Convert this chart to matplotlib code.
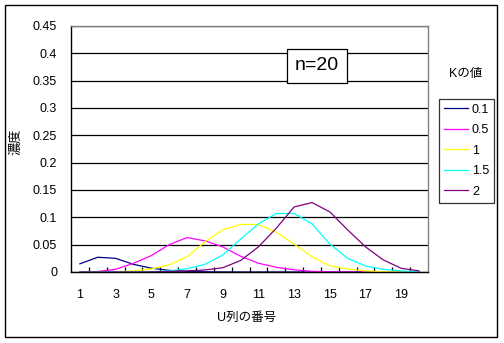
import matplotlib
matplotlib.use("Agg")
import matplotlib.pyplot as plt
from matplotlib.patches import Rectangle
from matplotlib.ticker import FixedLocator

plt.rcParams['font.family'] = ['Liberation Sans', 'Noto Sans CJK JP']

categories = list(range(1, 21))
x_tick_labels = ["1", "3", "5", "7", "9", "11", "13", "15", "17", "19"]
y_ticks = [0, 0.05, 0.1, 0.15, 0.2, 0.25, 0.3, 0.35, 0.4, 0.45]
y_tick_labels = ["0", "0.05", "0.1", "0.15", "0.2", "0.25", "0.3", "0.35", "0.4", "0.45"]

series_names = ["0.1", "0.5", "1", "1.5", "2"]
k01 = [0.015, 0.027, 0.025, 0.014, 0.007, 0.003, 0.0012, 0.0004, 0.0001, 0,
       0, 0, 0, 0, 0, 0, 0, 0, 0, 0]
k05 = [0.0002, 0.0008, 0.005, 0.016, 0.030, 0.050, 0.063, 0.057, 0.046, 0.029,
       0.016, 0.0086, 0.004, 0.0012, 0.0003, 0.0001, 0, 0, 0, 0]
k1 = [0, 0.0001, 0.0005, 0.002, 0.0055, 0.013, 0.028, 0.055, 0.077, 0.087,
      0.087, 0.073, 0.051, 0.028, 0.011, 0.0055, 0.002, 0.0005, 0.0001, 0]
k15 = [0, 0, 0.0001, 0.0003, 0.0008, 0.002, 0.006, 0.014, 0.031, 0.060,
       0.088, 0.107, 0.107, 0.088, 0.051, 0.025, 0.011, 0.005, 0.002, 0.0003]
k2 = [0, 0, 0, 0, 0.0002, 0.001, 0.002, 0.0037, 0.0078, 0.021,
      0.046, 0.080, 0.119, 0.127, 0.110, 0.077, 0.046, 0.022, 0.0068, 0.002]
series_values = [k01, k05, k1, k15, k2]
colors = ["#000080", "#FF00FF", "#FFFF00", "#00FFFF", "#800080"]

W, H = 504, 343
fig = plt.figure(figsize=(W / 100, H / 100), dpi=100)
fig.patch.set_facecolor("white")

def fx(px):
    return px / W

def fy(py):
    return 1 - py / H

L, R, T, B = 71, 428, 26, 272
ax = fig.add_axes([fx(L), fy(B), fx(R) - fx(L), fy(T) - fy(B)])

lines = []
for name, vals, c in zip(series_names, series_values, colors):
    ln, = ax.plot(categories, vals, color=c, lw=0.9, label=name, zorder=2)
    lines.append(ln)

ax.set_xlim(0.5, 20.5)
ax.set_ylim(0, 0.45)
ax.set_yticks(y_ticks)
ax.set_yticklabels(y_tick_labels)
ax.set_xticks(categories[::2])
ax.set_xticklabels(x_tick_labels)
ax.xaxis.set_minor_locator(FixedLocator([i + 0.5 for i in range(1, 20)]))
ax.tick_params(axis='x', which='major', length=0, pad=12, labelsize=9)
ax.tick_params(axis='x', which='minor', length=3.5, direction='in', width=0.9, color='black')
ax.tick_params(axis='y', which='major', length=0, pad=10, labelsize=9)
ax.grid(axis='y', color='black', lw=0.9)
ax.set_axisbelow(True)
for s in ['left', 'bottom']:
    ax.spines[s].set_color('black')
    ax.spines[s].set_linewidth(1.0)
for s in ['top', 'right']:
    ax.spines[s].set_color('#808080')
    ax.spines[s].set_linewidth(1.0)

# axis titles
fig.text(fx(247), fy(318), "U列の番号", ha='center', va='center', fontsize=9)
fig.text(fx(16), fy(142), "濃度", ha='center', va='center', rotation=90, fontsize=9.5)

# n=20 box
fig.text(fx(317), fy(66), "n=20", ha='center', va='center', fontsize=14,
         bbox=dict(boxstyle='square,pad=0.42', facecolor='white', edgecolor='black', lw=0.9),
         zorder=5)

# legend
leg = fig.legend(handles=lines, loc='upper left',
                 bbox_to_anchor=(fx(439), fy(99)), bbox_transform=fig.transFigure,
                 fontsize=9, frameon=True, fancybox=False, borderaxespad=0,
                 handlelength=1.9, handletextpad=0.35, labelspacing=0.68,
                 borderpad=0.38)
leg.get_frame().set_edgecolor('black')
leg.get_frame().set_linewidth(0.9)
for h in leg.get_lines():
    h.set_linewidth(0.9)
fig.text(fx(466), fy(74), "Kの値", ha='center', va='center', fontsize=9)

# outer chart border
fig.add_artist(Rectangle((fx(5), fy(337)), fx(497) - fx(5), fy(5) - fy(337),
                         transform=fig.transFigure, fill=False, edgecolor='black', lw=1.0))

fig.savefig("out.png", dpi=100)
